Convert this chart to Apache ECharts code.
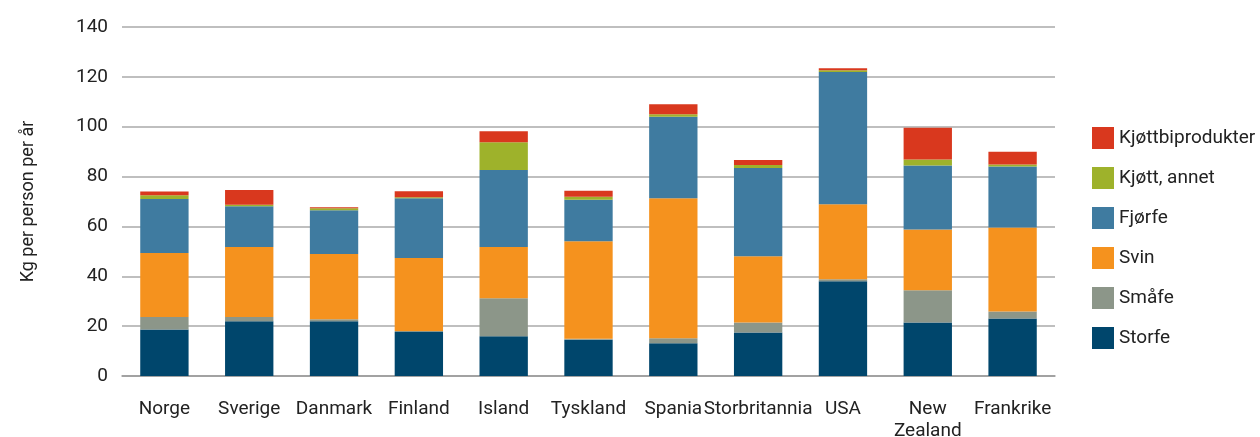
<!DOCTYPE html>
<html><head><meta charset="utf-8">
<script src="https://cdn.jsdelivr.net/npm/echarts@6/dist/echarts.min.js"></script>
<style>html,body{margin:0;padding:0;background:#fff}#c{width:1260px;height:437px}</style>
</head><body><div id="c"></div>
<script>
const categories = ['Norge','Sverige','Danmark','Finland','Island','Tyskland','Spania','Storbritannia','USA','New\nZealand','Frankrike'];
const storfe   = [18.7, 22.0, 22.0, 17.7, 15.9, 14.5, 13.1, 17.5, 38.0, 21.5, 23.1];
const smaafe   = [5.0, 1.7, 0.8, 0.4, 15.3, 0.4, 2.0, 4.0, 0.8, 12.9, 2.8];
const svin     = [25.6, 28.0, 26.1, 29.2, 20.5, 39.2, 56.2, 26.5, 30.1, 24.4, 33.7];
const fjorfe   = [21.7, 16.4, 17.6, 24.0, 30.9, 16.6, 32.7, 35.4, 53.0, 25.6, 24.4];
const annet    = [1.5, 0.6, 0.8, 0.4, 11.2, 1.2, 1.0, 1.2, 0.8, 2.4, 0.8];
const bipro    = [1.5, 5.9, 0.4, 2.4, 4.4, 2.4, 4.0, 2.0, 0.8, 12.8, 5.2];
const yTicks = [0, 20, 40, 60, 80, 100, 120, 140];

const seriesDefs = [
  ['Storfe', storfe, '#00466C'],
  ['Småfe', smaafe, '#8C9689'],
  ['Svin', svin, '#F5921E'],
  ['Fjørfe', fjorfe, '#3F7BA0'],
  ['Kjøtt, annet', annet, '#9EB22B'],
  ['Kjøttbiprodukter', bipro, '#D9381E']
];
const font = 'Roboto, "Noto Sans", sans-serif';
const chart = echarts.init(document.getElementById('c'));
chart.setOption({
  animation: false,
  textStyle: {fontFamily: font},
  grid: {left: 122, right: 205, top: 27, bottom: 61, outerBoundsMode: 'none', containLabel: false},
  legend: {
    orient: 'vertical', left: 1087, top: 122, itemGap: 18, itemWidth: 22, itemHeight: 22,
    data: ['Kjøttbiprodukter','Kjøtt, annet','Fjørfe','Svin','Småfe','Storfe'],
    textStyle: {fontSize: 19, color: '#222', fontFamily: font},
    icon: 'rect'
  },
  xAxis: {
    type: 'category', data: categories,
    axisLine: {lineStyle: {color: '#999', width: 1.5}},
    axisTick: {inside: true, length: 8, lineStyle: {color: '#aaa', width: 1.5}},
    axisLabel: {fontSize: 19, color: '#222', margin: 22, lineHeight: 22, interval: 0}
  },
  yAxis: {
    type: 'value', min: yTicks[0], max: yTicks[yTicks.length-1], interval: 20,
    name: 'Kg per person per år', nameLocation: 'middle', nameGap: 85,
    nameTextStyle: {fontSize: 18, color: '#222'},
    axisLabel: {fontSize: 19, color: '#222', margin: 14},
    splitLine: {lineStyle: {color: '#aaa', width: 1.5}},
    axisLine: {show: false}, axisTick: {show: false}
  },
  series: seriesDefs.map(([name, data, color]) => ({
    name, type: 'bar', stack: 'total', data, barWidth: '57%',
    itemStyle: {color}
  }))
});
</script></body></html>
